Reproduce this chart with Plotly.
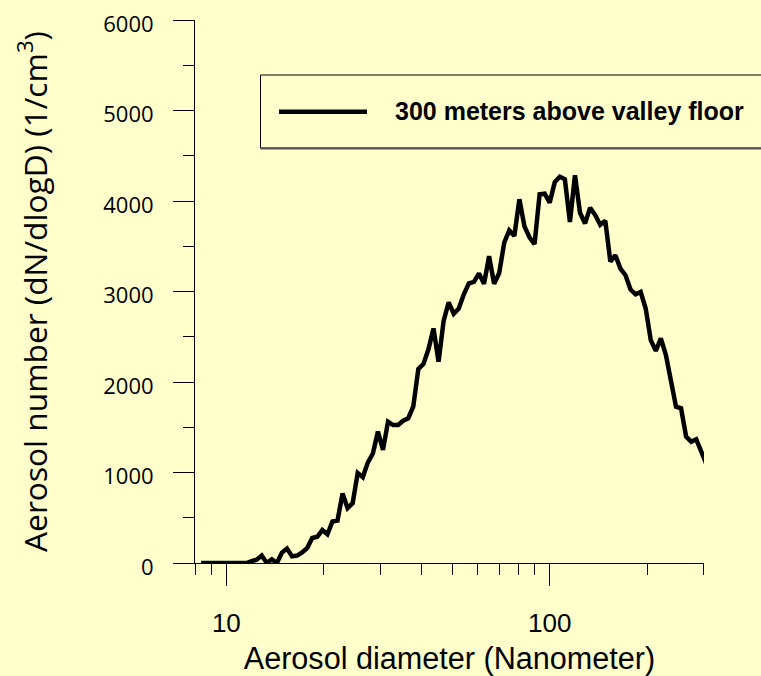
import math
import plotly.graph_objects as go

# Particle size distribution measured 300 m above the valley floor
diameter_nm = [
    8.354, 8.660, 8.977, 9.306, 9.647, 10.000, 10.366, 10.746, 11.140, 11.548,
    11.971, 12.409, 12.864, 13.335, 13.824, 14.330, 14.855, 15.399, 15.963, 16.548,
    17.154, 17.783, 18.434, 19.110, 19.810, 20.535, 21.288, 22.067, 22.876, 23.714,
    24.582, 25.483, 26.416, 27.384, 28.387, 29.427, 30.505, 31.623, 32.781, 33.982,
    35.227, 36.517, 37.855, 39.242, 40.679, 42.170, 43.714, 45.316, 46.976, 48.697,
    50.480, 52.330, 54.247, 56.234, 58.294, 60.430, 62.643, 64.938, 67.317, 69.783,
    72.339, 74.989, 77.736, 80.584, 83.536, 86.596, 89.769, 93.057, 96.466, 100.00,
    103.66, 107.46, 111.40, 115.48, 119.71, 124.09, 128.64, 133.35, 138.24, 143.30,
    148.55, 153.99, 159.63, 165.48, 171.54, 177.83, 184.34, 191.10, 198.10, 205.35,
    212.88, 220.67, 228.76, 237.14, 245.82, 254.83, 264.16, 273.84, 283.87, 294.27,
    305.05,
]
number_conc = [
    0, 0, 0, 0, 0, 0, 0, 0, 0, 0,
    20, 36, 82, 0, 40, 0, 115, 160, 73, 82,
    117, 165, 276, 290, 364, 318, 459, 470, 768, 606,
    662, 995, 949, 1110, 1210, 1452, 1250, 1562, 1525, 1525,
    1573, 1600, 1730, 2145, 2198, 2362, 2592, 2224, 2675, 2880,
    2755, 2813, 2970, 3090, 3106, 3200, 3085, 3390, 3085, 3205,
    3540, 3676, 3615, 4020, 3720, 3600, 3525, 4075, 4081, 3983,
    4209, 4268, 4242, 3768, 4285, 3870, 3753, 3927, 3845, 3737,
    3782, 3332, 3401, 3254, 3180, 3022, 2970, 2996, 2813, 2463,
    2345, 2482, 2298, 2041, 1727, 1710, 1396, 1341, 1368, 1231,
    1095,
]
assert len(diameter_nm) == len(number_conc)

series_name = "300 meters above valley floor"

x_major = [10, 100]
x_major_text = ["10", "100"]
x_minor = [8, 9, 20, 30, 40, 50, 60, 70, 80, 90, 200, 300]
y_major = [0, 1000, 2000, 3000, 4000, 5000, 6000]
y_minor = [500, 1500, 2500, 3500, 4500, 5500]

BG = "#FFFFCC"
INK = "black"
W, H = 761, 676
M_L, M_R, M_T, M_B = 195, 57, 20, 113
PW = W - M_L - M_R
PH = H - M_T - M_B


def px_x(px):
    """Pixel column -> paper x."""
    return (px - M_L) / PW


def px_y(py):
    """Pixel row -> paper y."""
    return (H - M_B - py) / PH


fig = go.Figure()
fig.add_trace(go.Scatter(
    x=diameter_nm,
    y=number_conc,
    mode="lines",
    name=series_name,
    line=dict(color=INK, width=4.5),
    cliponaxis=False,
    showlegend=False,
))

fig.update_layout(
    width=W,
    height=H,
    margin=dict(l=M_L, r=M_R, t=M_T, b=M_B, pad=0, autoexpand=False),
    paper_bgcolor=BG,
    plot_bgcolor=BG,
    showlegend=False,
)

fig.update_xaxes(
    type="log",
    range=[math.log10(7.999), math.log10(300.02)],
    showline=True, linecolor=INK, linewidth=1,
    showgrid=False, zeroline=False,
    ticks="outside", ticklen=22, tickwidth=1, tickcolor=INK,
    tickmode="array", tickvals=x_major, ticktext=x_major_text,
    tickfont=dict(family="Liberation Sans, Arial", size=26, color=INK),
    ticklabelstandoff=15,
    minor=dict(tickmode="array", tickvals=x_minor, ticks="outside",
               ticklen=11, tickwidth=1, tickcolor=INK, showgrid=False),
    title=dict(text="Aerosol diameter (Nanometer)",
               font=dict(family="Liberation Sans, Arial", size=30.6, color=INK),
               standoff=17),
)

fig.update_yaxes(
    range=[0, 6001],
    showline=True, linecolor=INK, linewidth=1,
    showgrid=False, zeroline=False,
    ticks="outside", ticklen=21, tickwidth=1, tickcolor=INK,
    tickmode="array", tickvals=y_major,
    tickfont=dict(family="Open Sans", size=22, color=INK),
    ticklabelstandoff=15,
    ticklabelshift=4,
    minor=dict(tickmode="array", tickvals=y_minor, ticks="outside",
               ticklen=11, tickwidth=1, tickcolor=INK, showgrid=False),
    title=dict(text="Aerosol number (dN/dlogD) (1/cm<sup>3</sup>)",
               font=dict(family="Open Sans", size=31.7, color=INK),
               standoff=46),
)

# Legend box with the line sample and series label
legend_left, legend_right = 260.5, 770
legend_top, legend_bottom = 75, 148
sample_y = 111.7
fig.add_shape(type="rect", xref="paper", yref="paper",
              x0=px_x(legend_left), x1=px_x(legend_right),
              y0=px_y(legend_bottom), y1=px_y(legend_top),
              line=dict(color=INK, width=1), fillcolor="rgba(0,0,0,0)")
fig.add_shape(type="line", xref="paper", yref="paper",
              x0=px_x(legend_left), x1=px_x(legend_right),
              y0=px_y(legend_bottom + 0.5), y1=px_y(legend_bottom + 0.5),
              line=dict(color="#555555", width=2))
fig.add_shape(type="line", xref="paper", yref="paper",
              x0=px_x(279), x1=px_x(367),
              y0=px_y(sample_y), y1=px_y(sample_y),
              line=dict(color=INK, width=4.5))
fig.add_annotation(xref="paper", yref="paper",
                   x=px_x(394), y=px_y(111),
                   xanchor="left", yanchor="middle",
                   text="<b>" + series_name + "</b>", showarrow=False,
                   borderpad=0,
                   font=dict(family="Liberation Sans, Arial", size=25, color=INK))

fig.write_html("out.html")
